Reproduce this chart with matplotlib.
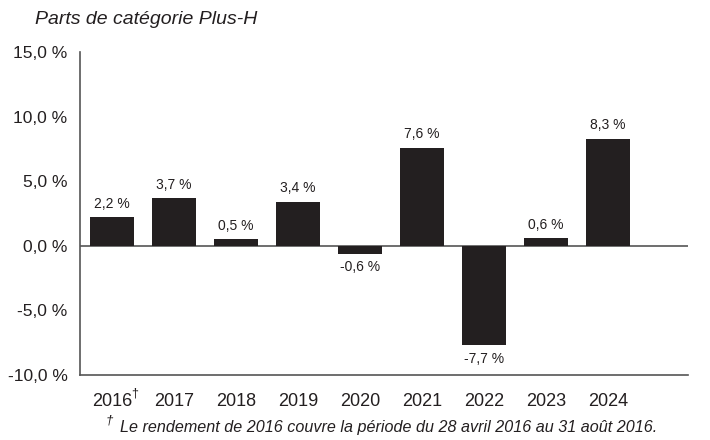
import matplotlib.pyplot as plt
from matplotlib import font_manager

# Data
years = ["2016", "2017", "2018", "2019", "2020", "2021", "2022", "2023", "2024"]
returns = [2.2, 3.7, 0.5, 3.4, -0.6, 7.6, -7.7, 0.6, 8.3]
yticks = [-10, -5, 0, 5, 10, 15]

names = {f.name for f in font_manager.fontManager.ttflist}
font = "Liberation Sans Narrow" if "Liberation Sans Narrow" in names else "Liberation Sans"
plt.rcParams["font.family"] = [font, "DejaVu Sans"]

bar_color = "#231f20"
axis_color = "#555555"

fig = plt.figure(figsize=(7.1, 4.4), dpi=100)
ax = fig.add_axes([80 / 710, 1 - 375 / 440, 608 / 710, 323 / 440])

x = list(range(len(years)))
ax.bar(x, returns, width=0.71, color=bar_color, zorder=3)

for xi, v in zip(x, returns):
    label = f"{v:.1f} %".replace(".", ",")
    if v >= 0:
        ax.text(xi, v + 0.5, label, ha="center", va="bottom", fontsize=10, color="#231f20")
    else:
        ax.text(xi, v - 0.5, label, ha="center", va="top", fontsize=10, color="#231f20")

ax.axhline(0, color=axis_color, linewidth=1.2, zorder=2)

ax.set_xlim(-0.516, 9.29)
ax.set_ylim(-10, 15)
ax.set_yticks(yticks)
ax.set_yticklabels([f"{t:.1f} %".replace(".", ",") for t in yticks], fontsize=12.5)
ax.set_xticks(x)
ax.set_xticklabels(years, fontsize=13)
ax.tick_params(axis="both", length=0, colors="#231f20")
ax.tick_params(axis="y", pad=9)
ax.tick_params(axis="x", pad=13)

# dagger next to 2016
ax.annotate("†", xy=(0, 0), xycoords=("data", "axes fraction"),
            xytext=(14, -13), textcoords="offset points", fontsize=9,
            color="#231f20", ha="left", va="center")

for side in ["top", "right"]:
    ax.spines[side].set_visible(False)
for side in ["left", "bottom"]:
    ax.spines[side].set_color(axis_color)
    ax.spines[side].set_linewidth(1.2)

fig.text(35 / 710, 1 - 20 / 440, "Parts de catégorie Plus-H", fontsize=14,
         style="italic", color="#231f20", va="center", ha="left")
fig.text(106 / 710, 1 - 420 / 440, "†", fontsize=9.5, style="italic", color="#231f20",
         va="center", ha="left")
fig.text(120 / 710, 1 - 427 / 440,
         "Le rendement de 2016 couvre la période du 28 avril 2016 au 31 août 2016.",
         fontsize=11.6, style="italic", color="#231f20", va="center", ha="left")

fig.savefig("out.png", dpi=100)
